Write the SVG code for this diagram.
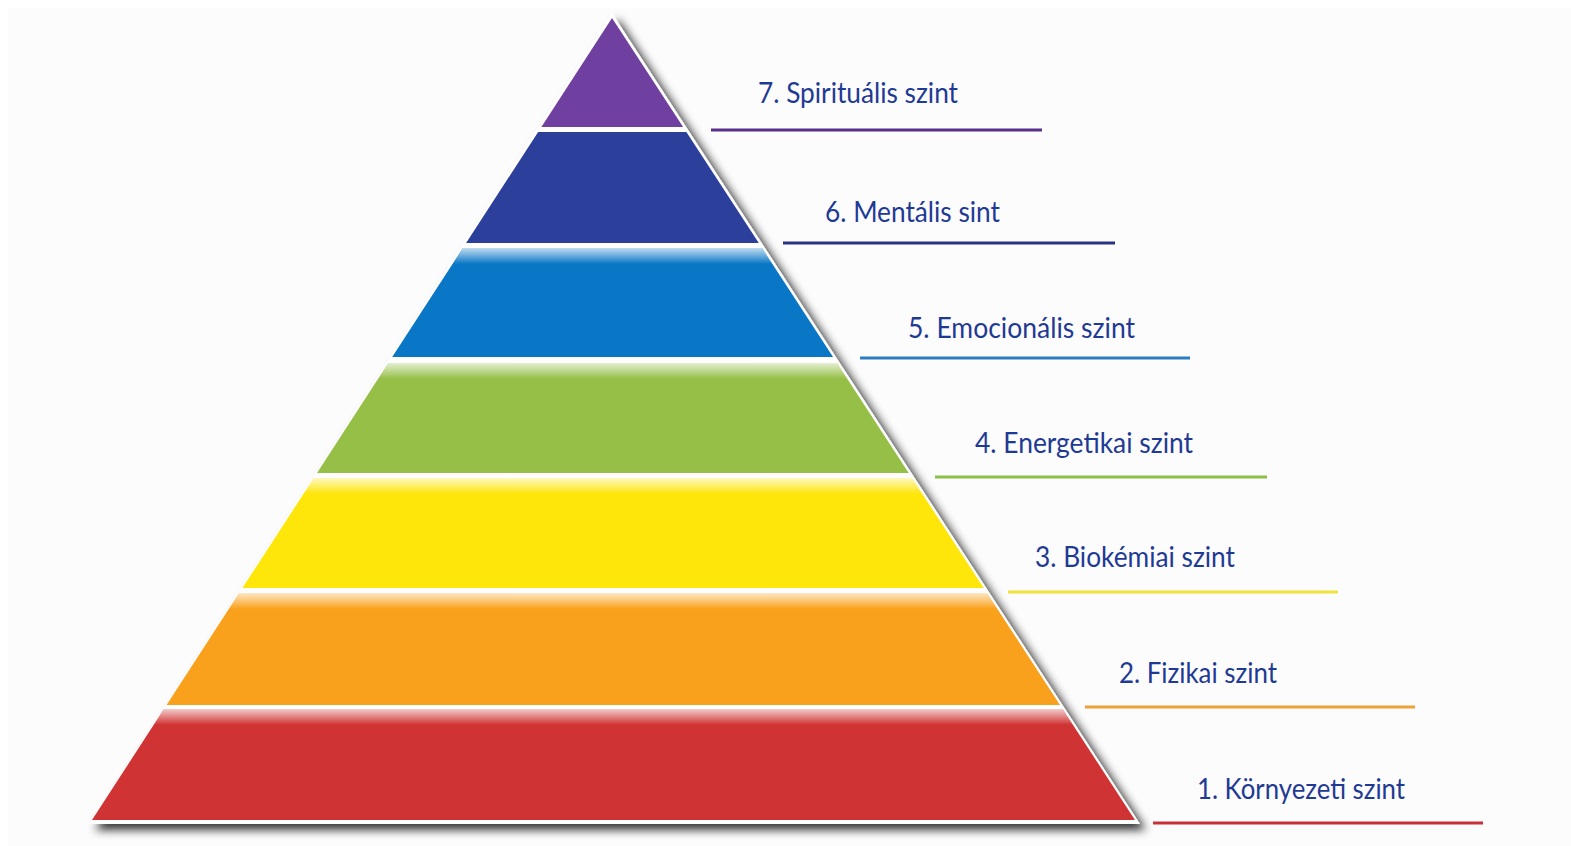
<svg xmlns="http://www.w3.org/2000/svg" width="1571" height="846" viewBox="0 0 1571 846">
<style>
.lbl{font-family:Lato,"Open Sans","Liberation Sans",sans-serif;font-size:28px;fill:#1f3a94}
.lead{stroke-width:3;fill:none}
</style>
<defs>
<clipPath id="tri"><polygon points="612,18 92,820 1135,820"/></clipPath>
<filter id="sh" x="-10%" y="-10%" width="130%" height="130%">
<feGaussianBlur in="SourceAlpha" stdDeviation="5"/>
<feOffset dx="6" dy="6" result="b"/>
<feComponentTransfer><feFuncA type="linear" slope="0.8"/></feComponentTransfer>
<feMerge><feMergeNode/><feMergeNode in="SourceGraphic"/></feMerge>
</filter>
<linearGradient id="hl" x1="0" y1="0" x2="0" y2="1">
<stop offset="0" stop-color="#fff" stop-opacity="0.75"/>
<stop offset="1" stop-color="#fff" stop-opacity="0"/>
</linearGradient>
</defs>
<rect width="1571" height="846" fill="#ffffff"/>
<rect x="8" y="8" width="1563" height="838" fill="#fcfcfc"/>
<g id="pyramid-base"><polygon points="612,13 89,824 1140,824" fill="#ffffff" filter="url(#sh)"/></g>
<g clip-path="url(#tri)">
<g id="level-7"><rect x="80" y="18" width="1070" height="109" fill="#7040a0"/></g>
<g id="level-6"><rect x="80" y="132" width="1070" height="111" fill="#2c3f9b"/></g>
<g id="level-5"><rect x="80" y="248" width="1070" height="109" fill="#0a77c6"/><rect x="80" y="248" width="1070" height="16" fill="url(#hl)"/></g>
<g id="level-4"><rect x="80" y="363" width="1070" height="110" fill="#95bf46"/><rect x="80" y="363" width="1070" height="16" fill="url(#hl)"/></g>
<g id="level-3"><rect x="80" y="478" width="1070" height="110" fill="#fee50a"/><rect x="80" y="478" width="1070" height="16" fill="url(#hl)"/></g>
<g id="level-2"><rect x="80" y="593" width="1070" height="112" fill="#f9a11c"/><rect x="80" y="593" width="1070" height="16" fill="url(#hl)"/></g>
<g id="level-1"><rect x="80" y="709" width="1070" height="111" fill="#d03333"/><rect x="80" y="709" width="1070" height="16" fill="url(#hl)"/></g>
</g>
<g id="labels">
<text id="label-7" class="lbl" x="758" y="103" textLength="200" lengthAdjust="spacingAndGlyphs">7. Spirituális szint</text>
<text id="label-6" class="lbl" x="825" y="222" textLength="175" lengthAdjust="spacingAndGlyphs">6. Mentális sint</text>
<text id="label-5" class="lbl" x="908" y="338" textLength="227" lengthAdjust="spacingAndGlyphs">5. Emocionális szint</text>
<text id="label-4" class="lbl" x="975" y="453" textLength="218" lengthAdjust="spacingAndGlyphs">4. Energetikai szint</text>
<text id="label-3" class="lbl" x="1035" y="567" textLength="200" lengthAdjust="spacingAndGlyphs">3. Biokémiai szint</text>
<text id="label-2" class="lbl" x="1119" y="683" textLength="158" lengthAdjust="spacingAndGlyphs">2. Fizikai szint</text>
<text id="label-1" class="lbl" x="1197" y="799" textLength="208" lengthAdjust="spacingAndGlyphs">1. Környezeti szint</text>
</g>
<g id="connectors">
<line class="lead" x1="711" y1="130" x2="1042" y2="130" stroke="#5b2f8c"/>
<line class="lead" x1="783" y1="243" x2="1115" y2="243" stroke="#2a3380"/>
<line class="lead" x1="860" y1="358" x2="1190" y2="358" stroke="#2c7cc2"/>
<line class="lead" x1="935" y1="477" x2="1267" y2="477" stroke="#8cbf48"/>
<line class="lead" x1="1008" y1="592" x2="1338" y2="592" stroke="#f2e23a"/>
<line class="lead" x1="1085" y1="707" x2="1415" y2="707" stroke="#eea238"/>
<line class="lead" x1="1153" y1="823" x2="1483" y2="823" stroke="#c83036"/>
</g>
</svg>
